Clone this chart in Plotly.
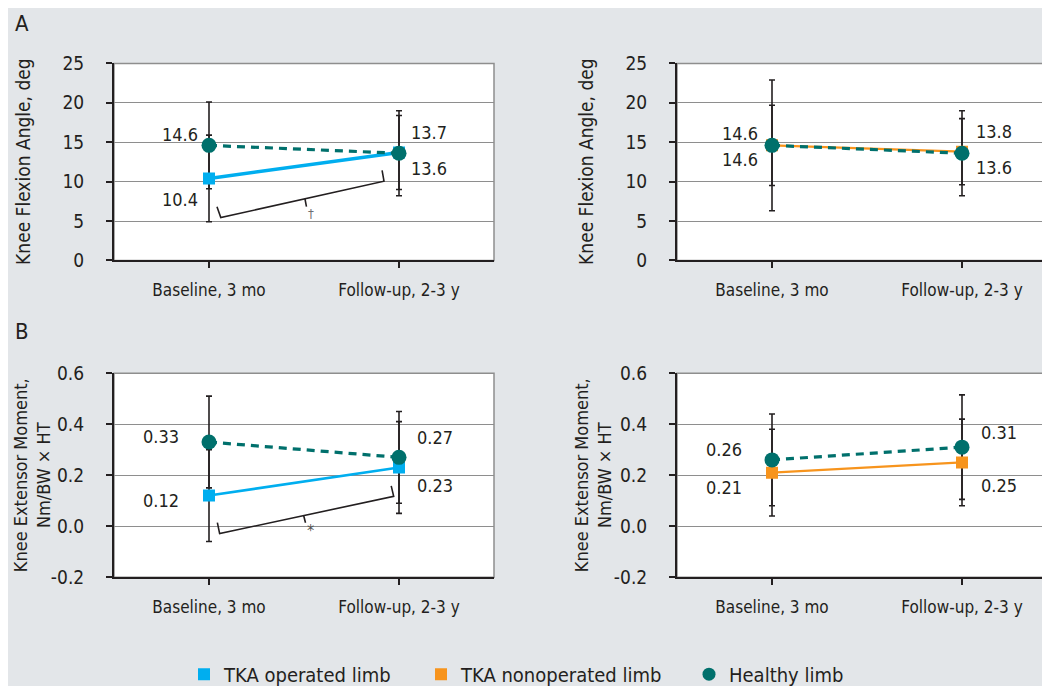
import plotly.graph_objects as go

# ---------------- data ----------------
categories = ["Baseline, 3 mo", "Follow-up, 2-3 y"]
x_pos = [0, 1]

a_left_operated = [10.4, 13.7]
a_left_operated_sd = [5.5, 4.7]
a_left_healthy = [14.6, 13.6]
a_left_healthy_sd = [5.5, 5.4]

a_right_nonoperated = [14.6, 13.8]
a_right_nonoperated_sd = [8.3, 4.2]
a_right_healthy = [14.6, 13.6]
a_right_healthy_sd = [5.1, 5.4]

b_left_operated = [0.12, 0.23]
b_left_operated_sd = [0.18, 0.18]
b_left_healthy = [0.33, 0.27]
b_left_healthy_sd = [0.18, 0.18]

b_right_nonoperated = [0.21, 0.25]
b_right_nonoperated_sd = [0.17, 0.17]
b_right_healthy = [0.26, 0.31]
b_right_healthy_sd = [0.18, 0.205]

a_ticks = [0, 5, 10, 15, 20, 25]
a_ticklabels = ["0", "5", "10", "15", "20", "25"]
b_ticks = [-0.2, 0.0, 0.2, 0.4, 0.6]
b_ticklabels = ["-0.2", "0.0", "0.2", "0.4", "0.6"]

series_names = ["TKA operated limb", "TKA nonoperated limb", "Healthy limb"]

# ---------------- style ----------------
W, H = 1050, 686
FONT = "DejaVu Sans Condensed, Liberation Sans Narrow, Arial Narrow, sans-serif"
INK = "#231f20"
GRID = "#8e8e8e"
BG = "#e3e6e9"
C_OP = "#00aeef"
C_NON = "#f7941d"
C_HEA = "#00706c"

STYLE = {
    "op": dict(color=C_OP, symbol="square", msize=12, dash="solid"),
    "non": dict(color=C_NON, symbol="square", msize=12, dash="solid"),
    "hea": dict(color=C_HEA, symbol="circle", msize=15, dash="8px,6px"),
}

panels = [
    dict(n=1, xdom=(106, 486), ydom=(56, 255), yr=[0, 25], tv=a_ticks, tt=a_ticklabels,
         series=[("op", a_left_operated, a_left_operated_sd, 3.5),
                 ("hea", a_left_healthy, a_left_healthy_sd, 3.2)],
         labels=[("hea", 0, -29, 11), ("op", 0, -29, -21), ("op", 1, 30, 20), ("hea", 1, 30, -15)],
         title="Knee Flexion Angle, deg", fmt="{:.1f}", toff=91),
    dict(n=2, xdom=(669, 1049), ydom=(56, 255), yr=[0, 25], tv=a_ticks, tt=a_ticklabels,
         series=[("non", a_right_nonoperated, a_right_nonoperated_sd, 2.2),
                 ("hea", a_right_healthy, a_right_healthy_sd, 3.2)],
         labels=[("non", 0, -32, 12), ("hea", 0, -32, -14), ("non", 1, 32, 20), ("hea", 1, 32, -14)],
         title="Knee Flexion Angle, deg", fmt="{:.1f}", toff=91),
    dict(n=3, xdom=(106, 486), ydom=(369, 575), yr=[-0.2, 0.6], tv=b_ticks, tt=b_ticklabels,
         series=[("op", b_left_operated, b_left_operated_sd, 2.6),
                 ("hea", b_left_healthy, b_left_healthy_sd, 3.2)],
         labels=[("hea", 0, -48, 6), ("op", 0, -48, -5), ("hea", 1, 36, 20), ("op", 1, 36, -18)],
         title="Knee Extensor Moment,<br>Nm/BW × HT", fmt="{:.2f}", toff=82),
    dict(n=4, xdom=(669, 1049), ydom=(369, 575), yr=[-0.2, 0.6], tv=b_ticks, tt=b_ticklabels,
         series=[("non", b_right_nonoperated, b_right_nonoperated_sd, 2.2),
                 ("hea", b_right_healthy, b_right_healthy_sd, 3.2)],
         labels=[("hea", 0, -48, 10), ("non", 0, -48, -15), ("hea", 1, 37, 15), ("non", 1, 37, -23)],
         title="Knee Extensor Moment,<br>Nm/BW × HT", fmt="{:.2f}", toff=84),
]

fig = go.Figure()
annotations = []
shapes = []
layout_axes = {}

for p in panels:
    n = p["n"]
    xa = "x" if n == 1 else f"x{n}"
    ya = "y" if n == 1 else f"y{n}"
    xkey = "xaxis" if n == 1 else f"xaxis{n}"
    ykey = "yaxis" if n == 1 else f"yaxis{n}"
    data_by_key = {k: v for k, v, _, _ in p["series"]}

    # error bars first (under markers)
    for key, vals, sds, lw in p["series"]:
        fig.add_trace(go.Scatter(
            x=x_pos, y=vals, xaxis=xa, yaxis=ya, mode="markers",
            marker=dict(size=1, color="rgba(0,0,0,0)"),
            error_y=dict(type="data", array=sds, visible=True, color=INK, thickness=1.6, width=3),
            showlegend=False, hoverinfo="skip"))
    # lines and markers
    for key, vals, sds, lw in p["series"]:
        st = STYLE[key]
        fig.add_trace(go.Scatter(
            x=x_pos, y=vals, xaxis=xa, yaxis=ya, mode="lines+markers",
            line=dict(color=st["color"], width=lw, dash=st["dash"]),
            marker=dict(color=st["color"], symbol=st["symbol"], size=st["msize"], line=dict(width=0)),
            showlegend=False))

    # value labels
    for key, i, dx, dy in p["labels"]:
        v = data_by_key[key][i]
        annotations.append(dict(x=x_pos[i], y=v, xref=xa, yref=ya, text=p["fmt"].format(v),
                                showarrow=False, xshift=dx, yshift=dy,
                                font=dict(family=FONT, size=18, color=INK)))

    xd = [p["xdom"][0] / W, p["xdom"][1] / W]
    yd = [1 - p["ydom"][1] / H, 1 - p["ydom"][0] / H]
    layout_axes[xkey] = dict(domain=xd, anchor=ya, range=[-0.5, 1.5], tickvals=x_pos, ticktext=categories,
                             showline=True, linecolor=INK, linewidth=2, ticks="outside", ticklen=6,
                             tickwidth=1.5, tickcolor=INK, showgrid=False, zeroline=False,
                             tickfont=dict(family=FONT, size=17, color=INK), ticklabelstandoff=7,
                             automargin=False, fixedrange=True)
    layout_axes[ykey] = dict(domain=yd, anchor=xa, range=p["yr"], tickvals=p["tv"], ticktext=p["tt"],
                             showline=True, linecolor=INK, linewidth=2, ticks="outside", ticklen=6,
                             tickwidth=1.5, tickcolor=INK, showgrid=True, gridcolor=GRID, gridwidth=1.3,
                             zeroline=False, tickfont=dict(family=FONT, size=19, color=INK),
                             ticklabelstandoff=18, automargin=False, fixedrange=True)
    # plot area: white background with gray top/right border
    shapes.append(dict(type="rect", xref=f"{xa} domain", yref=f"{ya} domain", x0=0, x1=1, y0=0, y1=1,
                       fillcolor="white", line=dict(color=GRID, width=1.5), layer="below"))
    # y axis title
    annotations.append(dict(x=(p["xdom"][0] - p["toff"]) / W, y=(yd[0] + yd[1]) / 2,
                            xref="paper", yref="paper", text=p["title"], textangle=-90, showarrow=False,
                            font=dict(family=FONT, size=18 if n > 2 else 19, color=INK),
                            xanchor="center", yanchor="middle"))

# significance brackets (panel A-left: dagger, panel B-left: asterisk)
shapes.append(dict(type="path", xref="x", yref="y", path="M 0.042,6.82 L 0.062,5.44 L 0.921,10.05 L 0.911,11.43",
                   line=dict(color=INK, width=1.6)))
shapes.append(dict(type="line", xref="x", yref="y", x0=0.505, y0=7.81, x1=0.513, y1=6.82,
                   line=dict(color=INK, width=1.6)))
annotations.append(dict(x=0.537, y=6.0, xref="x", yref="y", text="†", showarrow=False,
                        font=dict(family=FONT, size=13, color="#6d6e71")))
shapes.append(dict(type="path", xref="x3", yref="y3", path="M 0.044,0.0136 L 0.056,-0.029 L 0.972,0.117 L 0.959,0.158",
                   line=dict(color=INK, width=1.6)))
shapes.append(dict(type="line", xref="x3", yref="y3", x0=0.498, y0=0.0416, x1=0.508, y1=0.0136,
                   line=dict(color=INK, width=1.6)))
annotations.append(dict(x=0.535, y=-0.018, xref="x3", yref="y3", text="*", showarrow=False,
                        font=dict(family=FONT, size=16, color="#555555")))

# panel letters
annotations.append(dict(x=14 / W, y=1 - 16 / H, xref="paper", yref="paper", text="A", showarrow=False,
                        xanchor="center", yanchor="middle", font=dict(family=FONT, size=22, color=INK)))
annotations.append(dict(x=14 / W, y=1 - 327 / H, xref="paper", yref="paper", text="B", showarrow=False,
                        xanchor="center", yanchor="middle", font=dict(family=FONT, size=22, color=INK)))

# legend entries: one legend per entry to match spacing
legend_ids = ["legend", "legend2", "legend3"]
legend_x = [176, 413, 681]
for name, key, lid in zip(series_names, ["op", "non", "hea"], legend_ids):
    st = STYLE[key]
    fig.add_trace(go.Scatter(x=[None], y=[None], mode="markers", name=name, legend=lid,
                             marker=dict(color=st["color"], symbol=st["symbol"], size=13 if key == "hea" else 12)))

legend_layout = {}
for lid, lx in zip(legend_ids, legend_x):
    legend_layout[lid] = dict(orientation="h", x=lx / W, xanchor="left", y=1 - 673 / H, yanchor="middle",
                              bgcolor="rgba(0,0,0,0)", font=dict(family=FONT, size=20, color=INK),
                              itemclick=False, itemdoubleclick=False)

fig.update_layout(
    width=W, height=H,
    margin=dict(l=0, r=0, t=0, b=0),
    paper_bgcolor=BG, plot_bgcolor="white",
    font=dict(family=FONT, color=INK),
    showlegend=True,
    annotations=annotations, shapes=shapes,
    **legend_layout,
    **layout_axes,
)

fig.write_html("out.html")
